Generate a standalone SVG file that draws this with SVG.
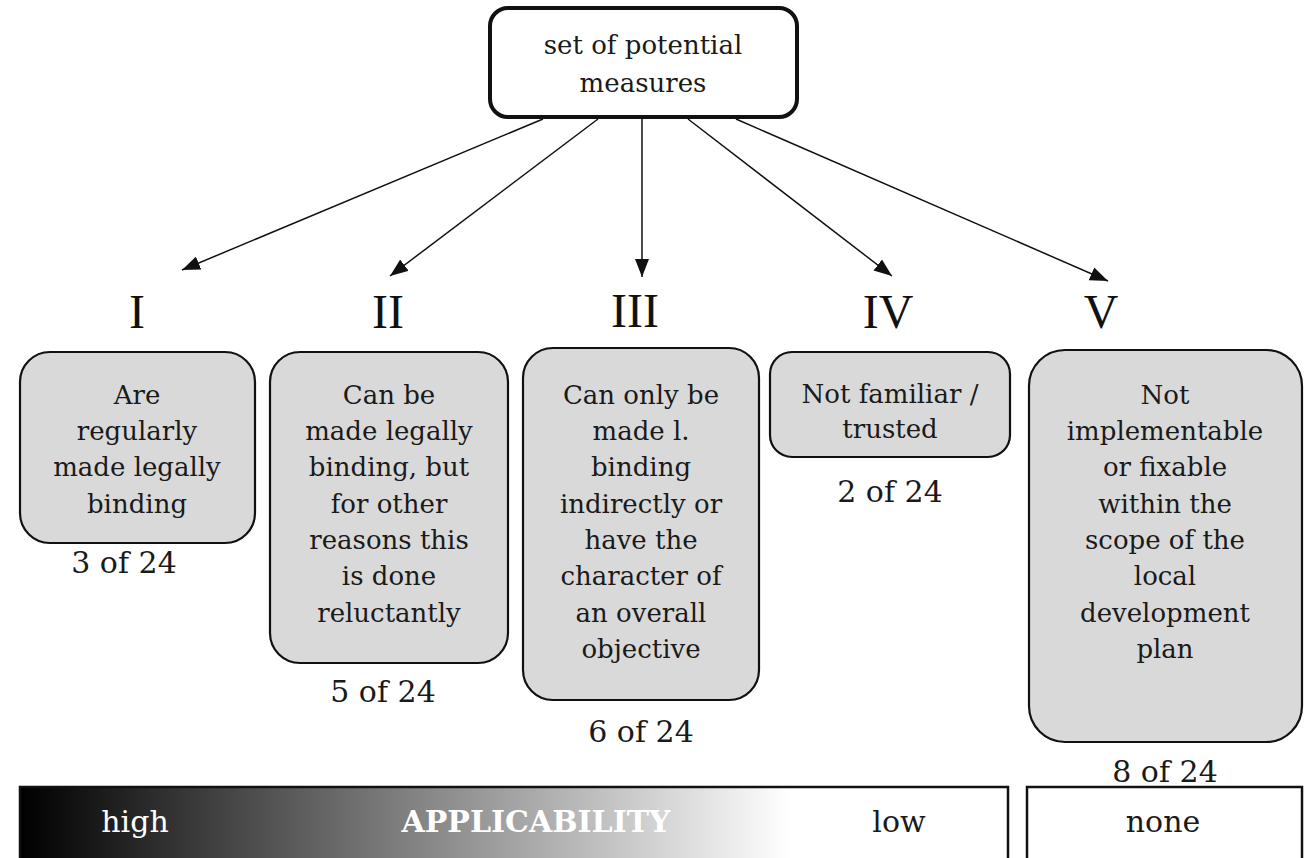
<svg xmlns="http://www.w3.org/2000/svg" width="1309" height="858" viewBox="0 0 1309 858">
<style>
.t{font-family:"DejaVu Serif","Liberation Serif",serif;font-size:26px;fill:#1a1a1a;text-anchor:middle}
.cnt{font-family:"DejaVu Serif","Liberation Serif",serif;font-size:30px;fill:#1a1a1a;text-anchor:middle}
.num{font-family:"Liberation Serif",serif;font-size:48px;fill:#111;text-anchor:middle}
.box{fill:#d9d9d9;stroke:#111;stroke-width:2.2}
.bar{font-family:"DejaVu Serif","Liberation Serif",serif;font-size:30px;text-anchor:middle}
.conn line{stroke:#111;stroke-width:1.5;marker-end:url(#ahb)}
</style>
<defs>
<marker id="ahb" viewBox="0 0 18 14" refX="18" refY="7" markerWidth="18" markerHeight="14" markerUnits="userSpaceOnUse" orient="auto">
<path d="M0,0 L18,7 L0,14 z" fill="#111"/>
</marker>
<linearGradient id="grad" gradientUnits="userSpaceOnUse" x1="20" y1="0" x2="790" y2="0">
<stop offset="0" stop-color="#000"/>
<stop offset="1" stop-color="#fff"/>
</linearGradient>
</defs>
<rect width="1309" height="858" fill="#fff"/>

<g class="conn" id="connectors">
<line x1="543" y1="119" x2="182" y2="270"/>
<line x1="598" y1="119" x2="390" y2="276"/>
<line x1="642" y1="117" x2="642" y2="277"/>
<line x1="688" y1="119" x2="892" y2="276"/>
<line x1="736" y1="119" x2="1108" y2="281"/>
</g>

<g id="root">
<rect x="490" y="8" width="307" height="109" rx="18" fill="#fff" stroke="#111" stroke-width="4"/>
<text class="t" x="643" y="54">set of potential</text>
<text class="t" x="643" y="92">measures</text>
</g>

<g id="cat1">
<text class="num" x="137" y="328">I</text>
<rect class="box" x="20" y="352" width="235" height="191" rx="30"/>
<text class="t" x="137" y="404">Are</text>
<text class="t" x="137" y="440">regularly</text>
<text class="t" x="137" y="476">made legally</text>
<text class="t" x="137" y="513">binding</text>
<text class="cnt" x="124" y="573">3 of 24</text>
</g>

<g id="cat2">
<text class="num" x="388" y="328">II</text>
<rect class="box" x="270" y="352" width="238" height="311" rx="30"/>
<text class="t" x="389" y="404">Can be</text>
<text class="t" x="389" y="440">made legally</text>
<text class="t" x="389" y="476">binding, but</text>
<text class="t" x="389" y="513">for other</text>
<text class="t" x="389" y="549">reasons this</text>
<text class="t" x="389" y="585">is done</text>
<text class="t" x="389" y="622">reluctantly</text>
<text class="cnt" x="383" y="702">5 of 24</text>
</g>

<g id="cat3">
<text class="num" x="635" y="327">III</text>
<rect class="box" x="523" y="348" width="236" height="352" rx="30"/>
<text class="t" x="641" y="404">Can only be</text>
<text class="t" x="641" y="440">made l.</text>
<text class="t" x="641" y="476">binding</text>
<text class="t" x="641" y="513">indirectly or</text>
<text class="t" x="641" y="549">have the</text>
<text class="t" x="641" y="585">character of</text>
<text class="t" x="641" y="622">an overall</text>
<text class="t" x="641" y="658">objective</text>
<text class="cnt" x="641" y="742">6 of 24</text>
</g>

<g id="cat4">
<text class="num" x="888" y="328">IV</text>
<rect class="box" x="770" y="352" width="240" height="105" rx="22"/>
<text class="t" x="890" y="403">Not familiar /</text>
<text class="t" x="890" y="438">trusted</text>
<text class="cnt" x="890" y="502">2 of 24</text>
</g>

<g id="cat5">
<text class="num" x="1101" y="328">V</text>
<rect class="box" x="1029" y="350" width="273" height="392" rx="36"/>
<text class="t" x="1165" y="404">Not</text>
<text class="t" x="1165" y="440">implementable</text>
<text class="t" x="1165" y="476">or fixable</text>
<text class="t" x="1165" y="513">within the</text>
<text class="t" x="1165" y="549">scope of the</text>
<text class="t" x="1165" y="585">local</text>
<text class="t" x="1165" y="622">development</text>
<text class="t" x="1165" y="658">plan</text>
<text class="cnt" x="1165" y="782">8 of 24</text>
</g>

<g id="applicability">
<rect x="20" y="787" width="988" height="90" fill="url(#grad)" stroke="#111" stroke-width="2.5"/>
<text class="bar" x="135" y="832" fill="#fff">high</text>
<text class="bar" x="536" y="832" fill="#fff" font-weight="bold">APPLICABILITY</text>
<text class="bar" x="899" y="832" fill="#1a1a1a">low</text>
</g>

<g id="none">
<rect x="1027" y="787" width="275" height="90" fill="#fff" stroke="#111" stroke-width="2.5"/>
<text class="bar" x="1163" y="832" fill="#1a1a1a">none</text>
</g>
</svg>
